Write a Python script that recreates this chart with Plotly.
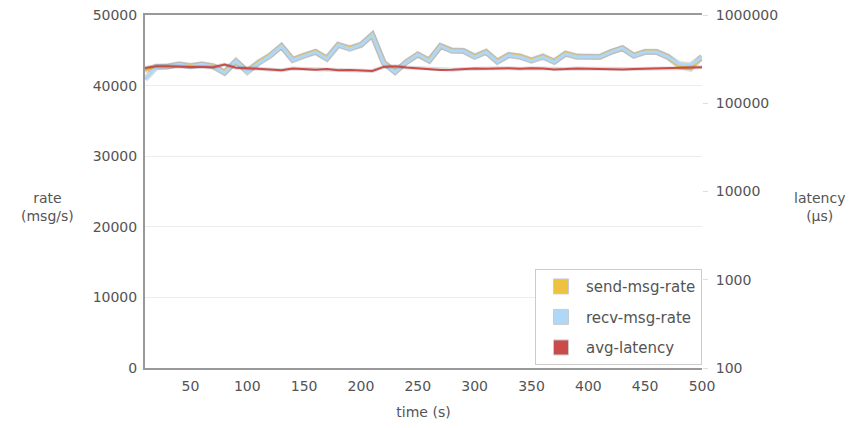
import plotly.graph_objects as go

time_s = [10, 20, 30, 40, 50, 60, 70, 80, 90, 100,
          110, 120, 130, 140, 150, 160, 170, 180, 190, 200,
          210, 220, 230, 240, 250, 260, 270, 280, 290, 300,
          310, 320, 330, 340, 350, 360, 370, 380, 390, 400,
          410, 420, 430, 440, 450, 460, 470, 480, 490, 500]

recv_msg_rate = [40900, 42600, 42700, 43000, 42700, 43000, 42700, 41800, 43500, 41900,
                 43200, 44200, 45600, 43600, 44200, 44750, 43800, 45750, 45200, 45750,
                 47200, 43200, 41900, 43300, 44400, 43500, 45600, 44900, 44900, 44050,
                 44750, 43350, 44300, 44050, 43500, 44050, 43350, 44500, 44050, 44050,
                 44050, 44750, 45300, 44200, 44750, 44750, 44050, 43050, 42900, 44050]

send_msg_rate = [42200, 42700, 42700, 43000, 42800, 43000, 42800, 41900, 43400, 42100,
                 43300, 44300, 45600, 43700, 44300, 44800, 43900, 45800, 45300, 45800,
                 47200, 43300, 42000, 43400, 44400, 43600, 45600, 45000, 44950, 44150,
                 44800, 43450, 44350, 44150, 43600, 44150, 43450, 44550, 44150, 44100,
                 44100, 44800, 45300, 44300, 44800, 44800, 44100, 42700, 42400, 44100]

avg_latency = [251000, 262000, 262000, 258000, 258000, 258000, 256000, 275000, 252000, 250000,
               246000, 240000, 236000, 248000, 246000, 240000, 244000, 236000, 238000, 236000,
               232000, 258000, 262000, 254000, 250000, 246000, 238000, 240000, 244000, 248000,
               246000, 250000, 250000, 246000, 250000, 248000, 242000, 244000, 248000, 246000,
               244000, 242000, 242000, 244000, 246000, 246000, 248000, 250000, 254000, 256000]

series_names = ["send-msg-rate", "recv-msg-rate", "avg-latency"]
series_colors = ["#edc240", "#afd8f8", "#cb4b4b"]

rate_ticks = [0, 10000, 20000, 30000, 40000, 50000]
latency_ticks = [100, 1000, 10000, 100000, 1000000]
time_ticks = [50, 100, 150, 200, 250, 300, 350, 400, 450, 500]

TXT = "#545454"
FONT = "DejaVu Sans"

fig = go.Figure()

shadow = "rgba(0,0,0,0.14)"
fig.add_trace(go.Scatter(x=time_s, y=send_msg_rate, mode="lines", yaxis="y",
                         line=dict(color=shadow, width=6), showlegend=False, hoverinfo="skip"))
fig.add_trace(go.Scatter(x=time_s, y=recv_msg_rate, mode="lines", yaxis="y",
                         line=dict(color=shadow, width=6), showlegend=False, hoverinfo="skip"))
fig.add_trace(go.Scatter(x=time_s, y=avg_latency, mode="lines", yaxis="y2",
                         line=dict(color=shadow, width=4), showlegend=False, hoverinfo="skip"))
fig.add_trace(go.Scatter(x=time_s, y=send_msg_rate, mode="lines", yaxis="y",
                         line=dict(color=series_colors[0], width=3), showlegend=False))
fig.add_trace(go.Scatter(x=time_s, y=recv_msg_rate, mode="lines", yaxis="y",
                         line=dict(color=series_colors[1], width=3), showlegend=False))
fig.add_trace(go.Scatter(x=time_s, y=avg_latency, mode="lines", yaxis="y2",
                         line=dict(color=series_colors[2], width=2), showlegend=False))

for n, c in zip(series_names, series_colors):
    fig.add_trace(go.Scatter(x=[None], y=[None], mode="markers", name=n,
                             legendgroup=n,
                             marker=dict(symbol="square", size=15, color=c,
                                         line=dict(color="#cccccc", width=1))))

fig.update_layout(
    width=845, height=420,
    margin=dict(l=137, r=151, t=7, b=60, autoexpand=False),
    paper_bgcolor="white", plot_bgcolor="white",
    font=dict(family=FONT, size=14, color=TXT),
    xaxis=dict(range=[10, 500], tickvals=time_ticks, showgrid=False, zeroline=False,
               showline=True, linecolor="#999999", linewidth=2, mirror=True,
               ticks="", tickfont=dict(size=14, color=TXT), ticklabelstandoff=4,
               automargin=False, ticklabeloverflow="allow",
               title=dict(text="time (s)", font=dict(size=14, color=TXT), standoff=14)),
    yaxis=dict(range=[0, 50000], tickvals=rate_ticks, ticktext=[str(v) for v in rate_ticks],
               showgrid=True, gridcolor="#ececec",
               gridwidth=1, zeroline=False, showline=True, linecolor="#999999", linewidth=2,
               ticks="", tickfont=dict(size=14, color=TXT), ticklabelstandoff=3,
               automargin=False, ticklabeloverflow="allow"),
    yaxis2=dict(type="log", range=[2, 6], overlaying="y", side="right",
                tickvals=latency_ticks, ticktext=[str(v) for v in latency_ticks],
                showgrid=False, zeroline=False, showline=False,
                ticks="outside", ticklen=5, tickcolor="#dddddd",
                ticklabelstandoff=5, automargin=False, ticklabeloverflow="allow",
                tickfont=dict(size=14, color=TXT)),
    legend=dict(x=1.0, y=0.008, xanchor="right", yanchor="bottom",
                bgcolor="white", bordercolor="#cccccc", borderwidth=1,
                font=dict(size=15, color=TXT), traceorder="grouped",
                tracegroupgap=8, itemwidth=40),
    annotations=[
        dict(text="rate<br>(msg/s)", xref="paper", yref="paper", x=-0.175, y=0.456,
             xanchor="center", yanchor="middle",
             showarrow=False, font=dict(size=14, color=TXT), align="center"),
        dict(text="latency<br>(µs)", xref="paper", yref="paper", x=1.2118, y=0.456,
             xanchor="center", yanchor="middle",
             showarrow=False, font=dict(size=14, color=TXT), align="center"),
    ],
)

fig.write_html("out.html")
